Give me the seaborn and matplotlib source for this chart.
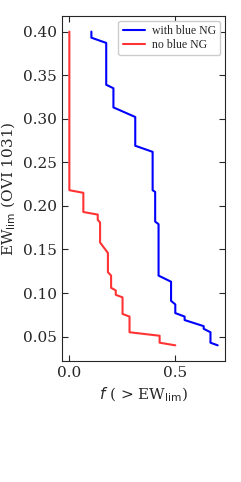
import numpy as np
import pandas as pd
import seaborn as sns
import matplotlib
matplotlib.use("Agg")
import matplotlib.pyplot as plt

# cumulative fraction of sightlines above an EW limit
blue_f = [0.104, 0.104, 0.174, 0.174, 0.208, 0.208, 0.311, 0.311, 0.393, 0.393,
          0.405, 0.405, 0.421, 0.421, 0.480, 0.480, 0.500, 0.500, 0.544, 0.544,
          0.634, 0.634, 0.666, 0.666, 0.700]
blue_ew = [0.400, 0.393, 0.387, 0.339, 0.335, 0.313, 0.302, 0.269, 0.262, 0.218,
           0.216, 0.182, 0.179, 0.120, 0.113, 0.091, 0.087, 0.077, 0.073, 0.069,
           0.062, 0.059, 0.055, 0.043, 0.040]

red_f = [0.000, 0.000, 0.066, 0.066, 0.134, 0.134, 0.145, 0.145, 0.182, 0.182,
         0.197, 0.197, 0.219, 0.219, 0.251, 0.251, 0.284, 0.284, 0.426, 0.426,
         0.500]
red_ew = [0.400, 0.218, 0.215, 0.193, 0.190, 0.184, 0.181, 0.158, 0.146, 0.124,
          0.120, 0.106, 0.103, 0.098, 0.095, 0.076, 0.073, 0.055, 0.051, 0.043,
          0.040]

labels = ["with blue NG", "no blue NG"]
colors = ["#0000ff", "#ff3333"]

sns.set_style("ticks")
plt.rcParams["font.family"] = ["DejaVu Serif"]

fig = plt.figure(figsize=(2.41, 4.82), dpi=100)
ax = fig.add_axes([0.257, 0.251, 0.677, 0.716])

for lab, col, fx, ew in zip(labels, colors, [blue_f, red_f], [blue_ew, red_ew]):
    sns.lineplot(x=fx, y=ew, sort=False, estimator=None,
                 color=col, linewidth=1.5, ax=ax, label=lab)

ax.set_xticks([0.0, 0.5])
ax.set_yticks([0.05, 0.10, 0.15, 0.20, 0.25, 0.30, 0.35, 0.40])
ax.tick_params(direction="in", top=True, right=True, labelsize=11, length=4)
ax.set_xlabel(r"$f$ ( > EW$_{\rm lim}$)", fontsize=11)
ax.set_ylabel(r"EW$_{\rm lim}$ (OVI 1031)", fontsize=11)
ax.legend(loc="upper right", prop={"family": "Liberation Serif", "size": 8.5},
          handlelength=1.9, handletextpad=0.6, borderpad=0.35,
          labelspacing=0.2, borderaxespad=0.4, framealpha=1)

fig.savefig("out.png", dpi=100)
